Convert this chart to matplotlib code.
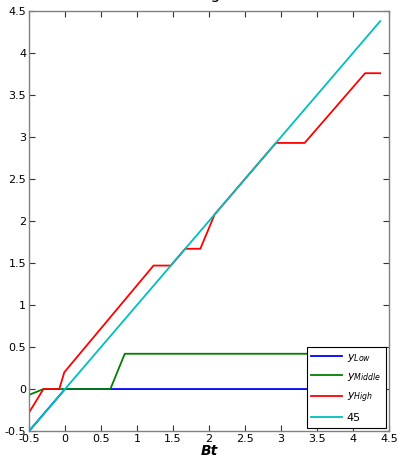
import matplotlib
matplotlib.use('Agg')
import matplotlib.pyplot as plt

# line data
low_x = [-0.5, 0.0, 4.38]
low_y = [-0.5, 0.0, 0.0]

mid_x = [-0.5, -0.3, 0.63, 0.83, 4.38]
mid_y = [-0.07, 0.0, 0.0, 0.42, 0.42]

high_x = [-0.5, -0.3, -0.08, -0.01, 1.23, 1.47, 1.67, 1.88, 2.08, 2.93, 3.33, 4.17, 4.38]
high_y = [-0.28, 0.0, 0.0, 0.2, 1.47, 1.47, 1.67, 1.67, 2.08, 2.93, 2.93, 3.76, 3.76]

diag_x = [-0.5, 4.38]
diag_y = [-0.5, 4.38]

xticks = [-0.5, 0, 0.5, 1, 1.5, 2, 2.5, 3, 3.5, 4, 4.5]
yticks = [-0.5, 0, 0.5, 1, 1.5, 2, 2.5, 3, 3.5, 4, 4.5]

fig = plt.figure(figsize=(3.98, 4.61), dpi=100)
ax = fig.add_axes([0.073, 0.065, 0.904, 0.911])

ax.plot(low_x, low_y, color='#0000ff', lw=1.3, label='$y_{Low}$')
ax.plot(mid_x, mid_y, color='#008000', lw=1.3, label='$y_{Middle}$')
ax.plot(high_x, high_y, color='#ff0000', lw=1.3, label='$y_{High}$')
ax.plot(diag_x, diag_y, color='#00bfbf', lw=1.3, label='45')

ax.set_xlim(-0.5, 4.5)
ax.set_ylim(-0.5, 4.5)
ax.set_xticks(xticks)
ax.set_yticks(yticks)
ax.set_xticklabels([f'{t:g}' for t in xticks])
ax.set_yticklabels([f'{t:g}' for t in yticks])
ax.tick_params(direction='in', top=True, right=True, labelsize=8, length=4,
               pad=2, color='#333333')
for s in ax.spines.values():
    s.set_color('#808080')
    s.set_linewidth(1.0)

ax.set_xlabel('Bt', fontsize=10, fontweight='bold', style='italic', labelpad=0)
ax.set_title('Wage', fontsize=11, pad=9)

leg = ax.legend(loc='lower right', fontsize=8, fancybox=False, framealpha=1,
                edgecolor='black', borderaxespad=0.3, handlelength=2.8,
                labelspacing=0.7, handletextpad=0.4)
leg.get_frame().set_linewidth(0.8)

fig.savefig('out.png', dpi=100)
